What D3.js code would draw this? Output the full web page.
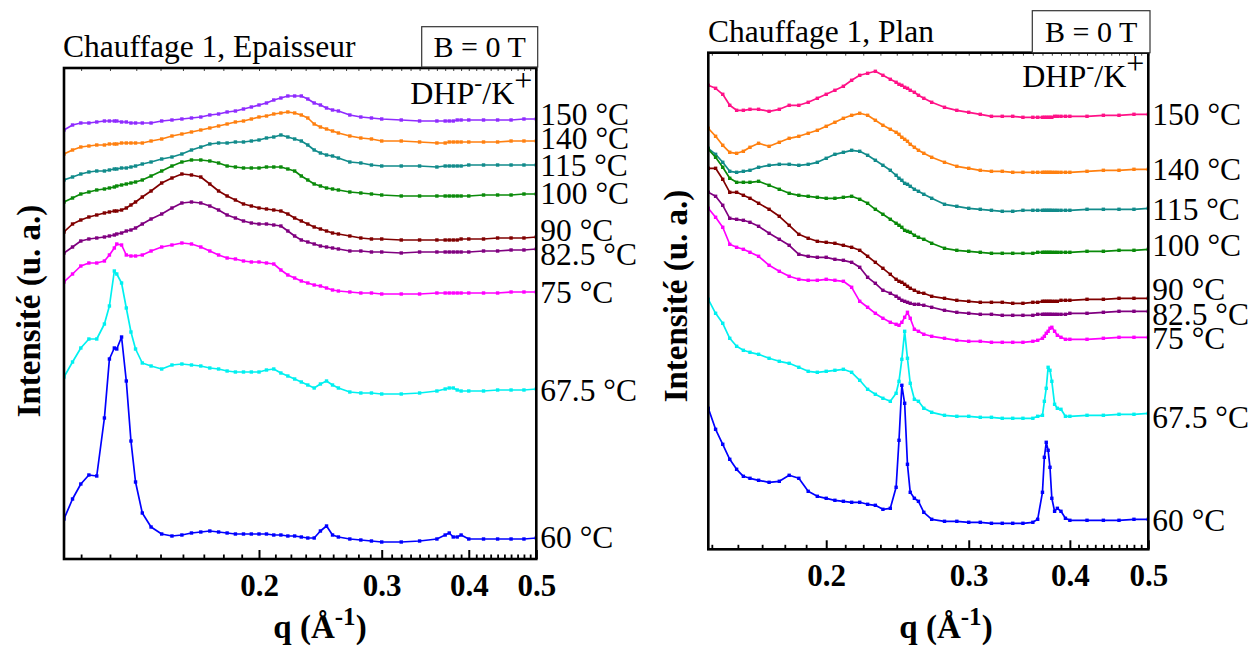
<!DOCTYPE html>
<html><head><meta charset="utf-8">
<script src="https://cdn.jsdelivr.net/npm/d3@7"></script>
<style>
html,body{margin:0;padding:0;background:#fff;}
svg{display:block;}
</style></head><body>
<svg id="chart" width="1254" height="648"></svg>
<script>
// ---------------- DATA ----------------
const temps = ["150 °C","140 °C","115 °C","100 °C","90 °C","82.5 °C","75 °C","67.5 °C","60 °C"];
const xTickValues = [0.2, 0.3, 0.4, 0.5];
const xTickLabels = ["0.2", "0.3", "0.4", "0.5"];

// Panel 1 : Chauffage 1, Epaisseur  (q in Å^-1, intensity in arbitrary units, curves offset)
const qEpaisseur = [0.105,0.108,0.111,0.114,0.117,0.120,0.122,0.124,0.125,0.127,0.129,0.131,0.133,0.136,0.140,0.145,0.150,0.155,0.160,0.165,0.170,0.175,0.180,0.185,0.190,0.195,0.200,0.205,0.210,0.215,0.220,0.225,0.230,0.235,0.240,0.245,0.250,0.255,0.260,0.270,0.280,0.290,0.300,0.320,0.340,0.360,0.370,0.375,0.380,0.385,0.390,0.400,0.420,0.440,0.460,0.480,0.500];
const iEp150 = [429,434,436,436,437,438,438,438,438,437,437,436,436,436,436,438,439,440,441,442,444,445,447,448,450,452,454,456,459,461,463,463,463,460,456,454,451,449,448,444,442,441,440,439,438,438,438,438,438,439,439,439,439,439,439,440,440];
const iEp140 = [405,409,412,413,414,414,415,415,415,416,416,416,416,416,418,420,423,425,427,429,431,433,435,437,438,440,442,443,445,446,447,446,444,441,435,432,430,428,426,423,421,420,418,418,417,416,416,417,417,417,417,417,417,417,418,418,418];
const iEp115 = [379,382,385,387,388,388,389,390,390,391,391,392,393,395,397,400,402,405,409,412,415,416,416,417,417,418,419,421,422,424,422,420,418,414,409,406,404,403,401,397,396,394,393,393,393,392,393,393,393,393,393,394,394,394,394,394,394];
const iEp100 = [357,361,365,367,369,370,371,372,373,374,375,376,377,379,383,388,393,397,399,399,398,396,393,392,391,391,391,392,392,392,390,388,383,379,375,373,371,370,369,367,366,365,364,363,363,363,363,363,363,363,363,363,364,364,364,365,365];
const iEp90  = [327,335,339,342,344,346,347,348,348,349,351,354,357,362,368,376,381,385,384,382,375,368,363,359,355,353,351,350,349,348,345,341,338,335,332,330,328,326,325,323,321,320,320,319,319,319,319,319,319,319,320,320,320,321,321,321,322];
const iEp825 = [306,312,318,320,321,322,323,324,325,326,328,329,331,335,340,345,351,356,357,356,353,349,344,341,338,336,335,335,334,333,328,323,319,317,315,313,312,311,310,308,308,307,307,306,307,307,307,307,307,307,307,307,308,308,309,309,310];
const iEp75  = [277,285,293,296,296,298,304,311,315,314,304,303,303,304,308,312,314,316,315,312,308,304,301,300,298,297,297,296,295,289,284,281,278,276,274,273,271,269,268,267,266,266,265,265,265,266,266,266,266,266,266,266,266,266,267,267,267];
const iEp675 = [182,197,211,220,220,235,253,288,285,276,251,227,210,196,193,190,194,195,194,193,191,190,188,187,187,187,187,189,190,186,183,180,177,174,171,175,178,174,171,167,166,166,165,165,166,168,170,171,171,169,168,168,168,169,169,169,170];
const iEp60  = [40,60,75,84,83,141,200,211,210,222,178,118,77,46,32,25,23,24,26,27,28,27,26,25,25,25,25,25,24,24,23,23,22,21,21,28,33,24,22,20,19,18,17,17,18,20,24,26,22,22,24,20,20,20,20,20,21];

// Panel 2 : Chauffage 1, Plan
const qPlan = [0.143,0.146,0.149,0.152,0.155,0.158,0.161,0.165,0.170,0.175,0.180,0.185,0.190,0.195,0.200,0.205,0.210,0.215,0.220,0.225,0.230,0.235,0.240,0.244,0.246,0.248,0.250,0.252,0.254,0.257,0.260,0.264,0.270,0.280,0.290,0.300,0.310,0.320,0.330,0.340,0.350,0.360,0.365,0.370,0.372,0.374,0.376,0.378,0.380,0.383,0.386,0.390,0.395,0.400,0.420,0.440,0.460,0.480,0.500];
const iPl150 = [464,461,455,444,439,439,440,440,438,440,444,444,447,451,455,459,463,469,474,476,478,474,470,467,465,464,462,461,459,457,454,451,447,442,439,437,435,433,433,433,432,432,432,432,432,432,432,432,432,433,433,433,433,433,433,434,434,435,435];
const iPl140 = [421,413,404,397,396,398,402,406,403,407,411,413,416,419,423,427,431,434,436,434,429,424,420,417,415,412,410,408,405,402,399,396,392,387,383,381,379,378,378,377,377,377,377,377,377,377,377,377,377,377,377,377,377,377,378,379,379,380,380];
const iPl115 = [401,395,387,378,377,378,379,382,384,385,385,384,385,387,391,395,397,399,398,394,389,384,379,374,371,369,366,365,363,360,358,355,351,345,343,341,340,339,338,338,339,339,339,339,339,339,339,339,339,339,339,339,339,339,340,340,340,340,341];
const iPl100 = [400,392,382,371,367,367,367,368,364,360,356,354,353,352,351,351,352,353,350,346,340,335,330,326,324,322,319,318,317,314,312,310,306,301,299,298,297,296,296,296,296,296,297,297,297,297,297,297,297,297,297,297,297,297,298,298,299,299,300];
const iPl90  = [381,381,370,357,357,354,351,346,340,333,324,315,311,308,307,306,304,302,299,293,287,281,275,270,268,267,265,263,261,259,257,256,253,251,249,248,247,247,247,246,246,247,247,248,248,248,248,248,248,248,248,249,249,249,250,250,251,251,251];
const iPl825 = [357,353,344,331,330,329,327,323,316,310,304,295,293,292,292,290,289,287,282,272,266,259,256,253,251,249,248,247,246,245,245,244,242,239,237,236,235,235,234,234,234,234,235,235,235,235,235,235,235,235,235,235,235,236,236,237,238,238,238];
const iPl75  = [341,332,322,305,302,300,297,293,284,278,273,270,269,269,270,269,268,262,248,242,236,231,227,225,224,227,232,237,231,220,218,215,213,211,209,208,208,207,207,207,207,208,209,211,213,216,218,221,222,218,214,212,210,210,210,211,212,212,212];
const iPl675 = [250,236,226,211,203,199,197,195,191,188,186,182,178,177,178,179,180,177,169,160,155,151,148,156,168,190,218,191,166,150,148,141,137,134,133,133,132,132,131,131,131,131,133,134,148,161,182,179,168,145,141,140,133,133,134,134,135,135,136];
const iPl60  = [141,120,105,90,80,73,71,69,67,68,74,71,58,53,51,49,48,47,47,45,44,40,41,62,109,164,146,85,57,51,48,37,30,28,28,27,27,26,26,26,26,27,30,57,92,107,99,82,51,38,41,38,31,29,29,29,29,30,30];

// ---------------- STYLE / LAYOUT ----------------
const colorsEp = ["#8f2bff","#ff8010","#118b8b","#0a8a0a","#800000","#800080","#ff00ff","#00f0f0","#0000ff"];
const colorsPl = ["#ff1287","#ff8010","#118b8b","#0a8a0a","#800000","#800080","#ff00ff","#00f0f0","#0000ff"];
const SERIF = "'Times New Roman','Liberation Serif',Times,serif";

const panels = [
  { id:"ep", title:"Chauffage 1, Epaisseur", q:qEpaisseur,
    series:[iEp150,iEp140,iEp115,iEp100,iEp90,iEp825,iEp75,iEp675,iEp60], colors:colorsEp,
    left:64, right:536.3, top:68, bottom:559, qMin:0.105, iMax:491,
    nudge:[-5,-3,0,-1,-7,5,0,1,-1],
    titleX:63, titleY:57, box:{x:421.7, y:26.7, w:116, h:40.3},
    yLabelX:40, yLabelY:311, xLabelX:320, dhpY:104 },
  { id:"pl", title:"Chauffage 1, Plan", q:qPlan,
    series:[iPl150,iPl140,iPl115,iPl100,iPl90,iPl825,iPl75,iPl675,iPl60], colors:colorsPl,
    left:708.3, right:1148.3, top:52.7, bottom:549.3, qMin:0.143, iMax:496.6,
    nudge:[0,0,1,-4,-9,3,1,4,1],
    titleX:708, titleY:41.5, box:{x:1032.3, y:10.7, w:117.7, h:42},
    yLabelX:687, yLabelY:296, xLabelX:946, dhpY:87 }
];

function minorTicks(qMin) {
  const out = [];
  [[0.1,0.2,9],[0.2,0.3,9],[0.3,0.4,10],[0.4,0.5,10]].forEach(([a,b,n]) => {
    for (let k = 1; k < n; k++) { const v = a + (b - a) * k / n; if (v >= qMin) out.push(v); }
  });
  return out;
}

const svg = d3.select("#chart");
svg.append("rect").attr("width",1254).attr("height",648).attr("fill","#fff");

panels.forEach(p => {
  const x = d3.scaleLog().domain([p.qMin, 0.5]).range([p.left, p.right]);
  const y = d3.scaleLinear().domain([0, p.iMax]).range([p.bottom, p.top]);
  const g = svg.append("g");

  const clipId = "clip-" + p.id;
  svg.append("clipPath").attr("id", clipId).append("rect")
    .attr("x", p.left).attr("y", p.top).attr("width", p.right - p.left).attr("height", p.bottom - p.top);

  // curves
  const line = d3.line().x(d => x(d[0])).y(d => y(d[1]));
  const curves = g.append("g").attr("clip-path", `url(#${clipId})`);
  p.series.forEach((s, si) => {
    const pts = p.q.map((q, k) => [q, s[k]]);
    const cg = curves.append("g");
    cg.append("path").datum(pts).attr("d", line)
      .attr("fill","none").attr("stroke", p.colors[si]).attr("stroke-width", 1.7).attr("stroke-linejoin","round");
    cg.selectAll("rect").data(pts).join("rect")
      .attr("x", d => x(d[0]) - 1.7).attr("y", d => y(d[1]) - 1.7)
      .attr("width", 3.4).attr("height", 3.4).attr("fill", p.colors[si]);
  });

  // bottom axis : minor ticks
  const minor = minorTicks(p.qMin);
  const axMinor = g.append("g").attr("transform", `translate(0,${p.bottom})`)
    .call(d3.axisBottom(x).tickValues(minor).tickSize(-4.5).tickSizeOuter(0).tickFormat(""));
  axMinor.select(".domain").remove();
  axMinor.selectAll("line").attr("stroke","#000").attr("stroke-width",1.8);

  // bottom axis : major ticks + labels
  const axMajor = g.append("g").attr("transform", `translate(0,${p.bottom})`)
    .call(d3.axisBottom(x).tickValues(xTickValues).tickSize(-9).tickSizeOuter(0).tickPadding(15)
      .tickFormat((d, i) => xTickLabels[i]));
  axMajor.select(".domain").remove();
  axMajor.selectAll("line").attr("stroke","#000").attr("stroke-width",2);
  axMajor.selectAll("text").attr("font-family", SERIF).attr("font-weight","bold")
    .attr("font-size", 31).attr("fill","#000");

  // top mirror ticks (small)
  const axTop = g.append("g").attr("transform", `translate(0,${p.top})`)
    .call(d3.axisTop(x).tickValues(minor.concat(xTickValues)).tickSize(-3).tickSizeOuter(0).tickFormat(""));
  axTop.select(".domain").remove();
  axTop.selectAll("line").attr("stroke","#444").attr("stroke-width",1);

  // frame
  g.append("rect").attr("x", p.left).attr("y", p.top)
    .attr("width", p.right - p.left).attr("height", p.bottom - p.top)
    .attr("fill","none").attr("stroke","#000").attr("stroke-width", 2.6);

  // B = 0 T box
  g.append("rect").attr("x", p.box.x).attr("y", p.box.y).attr("width", p.box.w).attr("height", p.box.h)
    .attr("fill","#fff").attr("stroke","#333").attr("stroke-width", 1.2);
  g.append("text").attr("x", p.box.x + p.box.w / 2).attr("y", p.box.y + p.box.h / 2 + 10.5)
    .attr("text-anchor","middle").attr("font-family", SERIF).attr("font-size", 30)
    .text("B = 0 T");

  // title
  g.append("text").attr("x", p.titleX).attr("y", p.titleY)
    .attr("font-family", SERIF).attr("font-size", 31.5).text(p.title);

  // DHP-/K+
  const dhp = g.append("text").attr("x", p.right - 4).attr("y", p.dhpY)
    .attr("text-anchor","end").attr("font-family", SERIF).attr("font-size", 32);
  dhp.append("tspan").text("DHP");
  dhp.append("tspan").attr("dy", -13).attr("font-size", 24).text("-");
  dhp.append("tspan").attr("dy", 13).text("/K");
  dhp.append("tspan").attr("dy", -13).attr("font-size", 32).text("+");

  // temperature labels
  p.series.forEach((s, si) => {
    const yc = y(s[s.length - 1]) + p.nudge[si];
    g.append("text").attr("x", p.right + 4).attr("y", yc + 11)
      .attr("font-family", SERIF).attr("font-size", 31.5).attr("fill","#000")
      .text(temps[si]);
  });

  // y axis title
  g.append("text")
    .attr("transform", `translate(${p.yLabelX},${p.yLabelY}) rotate(-90)`)
    .attr("text-anchor","middle").attr("font-family", SERIF).attr("font-weight","bold")
    .attr("font-size", 33).text("Intensité (u. a.)");

  // x axis title
  const xl = g.append("text").attr("x", p.xLabelX).attr("y", 638)
    .attr("text-anchor","middle").attr("font-family", SERIF).attr("font-weight","bold")
    .attr("font-size", 33);
  xl.append("tspan").text("q (Å");
  xl.append("tspan").attr("dy", -13).attr("font-size", 25).text("-1");
  xl.append("tspan").attr("dy", 13).text(")");
});
</script>
</body></html>
